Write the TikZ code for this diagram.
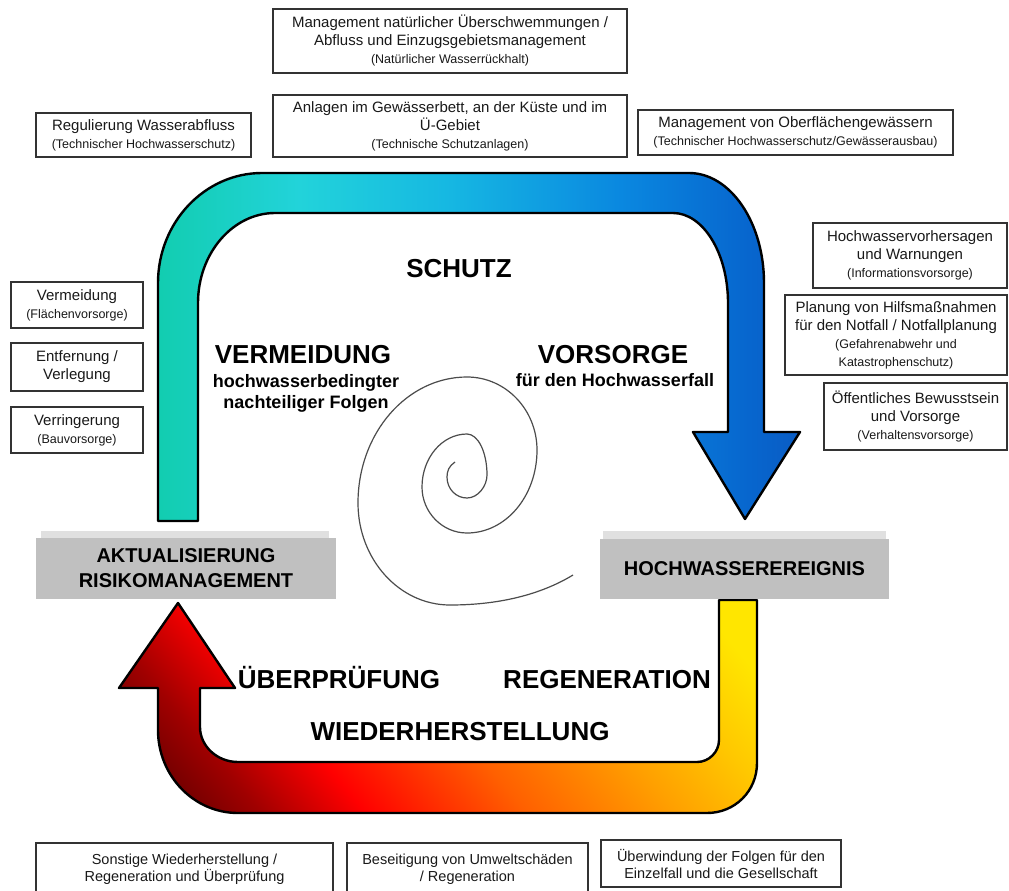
\documentclass[tikz,border=0pt]{standalone}
\usepackage{fontspec}
\setmainfont{Liberation Sans}
\usepackage{tikz}
\usetikzlibrary{positioning}

\definecolor{graubox}{HTML}{C0C0C0}
\definecolor{graustreif}{HTML}{E0E0E0}
\definecolor{tuerkis}{HTML}{12CDB0}
\definecolor{cyanhell}{HTML}{22D3DA}
\definecolor{blaumitte}{HTML}{16B8E2}
\definecolor{blauzwei}{HTML}{0A88E0}
\definecolor{blaudrei}{HTML}{0766CE}
\definecolor{blauvier}{HTML}{0A5CC4}
\definecolor{dunkelrot}{HTML}{700000}
\definecolor{rotmittel}{HTML}{A00000}
\definecolor{rothell}{HTML}{FF0000}
\definecolor{orangerot}{HTML}{FF6000}
\definecolor{orangegelb}{HTML}{FFA000}
\definecolor{gelbmittel}{HTML}{FFC800}
\definecolor{gelbhell}{HTML}{FFE600}

% Pfad-Schattierungen: sichtbarer Bereich 25bp..75bp
\pgfdeclarehorizontalshading{schutzfarbe}{100bp}{color(0bp)=(tuerkis); color(25bp)=(tuerkis); color(36bp)=(cyanhell); color(47.5bp)=(blaumitte); color(61bp)=(blauzwei); color(71bp)=(blaudrei); color(75bp)=(blauvier); color(100bp)=(blauvier)}
\pgfdeclarehorizontalshading{regenfarbe}{100bp}{color(0bp)=(dunkelrot); color(21bp)=(dunkelrot); color(27bp)=(rotmittel); color(36bp)=(rothell); color(50bp)=(orangerot); color(63bp)=(orangegelb); color(72bp)=(gelbmittel); color(80bp)=(gelbhell); color(100bp)=(gelbhell)}

\newcommand{\klein}[1]{{\fontsize{12.5}{14}\selectfont #1}}

\begin{document}
\begin{tikzpicture}[x=1pt, y=-1pt,
        kasten/.style={draw=black!80, line width=1.1pt, fill=white, align=center,
            text=black!90, inner sep=1pt, font=\fontsize{15}{18}\selectfont},
        grau/.style={fill=graubox, align=center, inner sep=0pt,
            font=\fontsize{20}{25}\selectfont\bfseries},
        etikett/.style={anchor=base, font=\fontsize{26}{30}\selectfont\bfseries},
        unter/.style={anchor=base, font=\fontsize{18}{21}\selectfont\bfseries},
        pfeil/.style={draw=black, line width=2.4pt, line join=round},
        spirale/.style={draw=black!70, line width=1.2pt},
    ]
    \useasboundingbox (0,0) rectangle (1009,891);
    \fill[white] (0,0) rectangle (1009,891);

    % Schutz-Pfeil oben
    \draw[pfeil, shading=schutzfarbe]
        (158,521) -- (158,283) .. controls (158,222) and (205,173) .. (262,173)
        -- (689,173) .. controls (730,173) and (764,222) .. (764,283)
        -- (764,432) -- (800,432) -- (745,519) -- (693,432) -- (728,432)
        -- (728,303) .. controls (728,253) and (703,213) .. (673,213)
        -- (275,213) .. controls (233,213) and (198,253) .. (198,303)
        -- (198,521) -- cycle;

    % Regenerations-Pfeil unten
    \draw[pfeil, shading=regenfarbe, shading angle=40]
        (719,600) -- (757,600) -- (757,763) .. controls (757,791) and (735,813) .. (707,813)
        -- (238,813) .. controls (194,813) and (158,776) .. (158,730)
        -- (158,688) -- (119,688) -- (178,603) -- (235,688) -- (200,688)
        -- (200,727) .. controls (200,746) and (217,762) .. (238,762)
        -- (697,762) .. controls (709,762) and (719,752) .. (719,740) -- cycle;

    % Spirale (Viertelboegen)
    \draw[spirale] (455,462) .. controls (449,466) and (447,471) .. (447,477)
        .. controls (447,489) and (456,498) .. (467,498)
        .. controls (478,498) and (487,486) .. (487,475)
        .. controls (487,452) and (478,434) .. (467,434)
        .. controls (442,434) and (422,458) .. (422,487)
        .. controls (422,512) and (442,533) .. (467,533)
        .. controls (506,533) and (537,496) .. (537,450)
        .. controls (537,410) and (506,377) .. (467,377)
        .. controls (407,377) and (358,433) .. (358,503)
        .. controls (358,559) and (399,605) .. (450,605)
        .. controls (505,605) and (545,592) .. (573,575);

    % graue Kaesten
    \fill[graustreif] (41,531) rectangle (329,538);
    \node[grau, minimum width=300pt, minimum height=61pt] (aktualisierung) at (186,568.5)
        {AKTUALISIERUNG\\RISIKOMANAGEMENT};
    \fill[graustreif] (603,531) rectangle (886,539);
    \node[grau, minimum width=289pt, minimum height=60pt] (ereignis) at (744.5,569)
        {HOCHWASSEREREIGNIS};

    % Beschriftungen im Kreislauf
    \node[etikett] (schutz) at (459,277) {SCHUTZ};
    \node[etikett] (vermeid) at (303,363) {VERMEIDUNG};
    \node[unter] (bedingt) at (306,387) {hochwasserbedingter};
    \node[unter] (folgen) at (306,408) {nachteiliger Folgen};
    \node[etikett] (vorsorge) at (613,363) {VORSORGE};
    \node[unter] (fall) at (615,386) {für den Hochwasserfall};
    \node[etikett] (pruefung) at (339,688) {ÜBERPRÜFUNG};
    \node[etikett] (regen) at (607,688) {REGENERATION};
    \node[etikett] (wiederh) at (460,740) {WIEDERHERSTELLUNG};

    % Kaesten oben
    \node[kasten, minimum width=354pt, minimum height=64pt] (natuerlich) at (450,41)
        {Management natürlicher Überschwemmungen /\\Abfluss und Einzugsgebietsmanagement\\\klein{(Natürlicher Wasserrückhalt)}};
    \node[kasten, minimum width=354pt, minimum height=62pt] (anlagen) at (450,126)
        {Anlagen im Gewässerbett, an der Küste und im\\Ü-Gebiet\\\klein{(Technische Schutzanlagen)}};
    \node[kasten, minimum width=215pt, minimum height=44pt] (regulierung) at (143.5,135)
        {Regulierung Wasserabfluss\\\klein{(Technischer Hochwasserschutz)}};
    \node[kasten, minimum width=315pt, minimum height=45pt] (oberflaeche) at (795.5,132.5)
        {Management von Oberflächengewässern\\\klein{(Technischer Hochwasserschutz/Gewässerausbau)}};

    % Kaesten links
    \node[kasten, minimum width=132pt, minimum height=46pt] (vermeidung) at (77,305)
        {Vermeidung\\\klein{(Flächenvorsorge)}};
    \node[kasten, minimum width=132pt, minimum height=48pt] (entfernung) at (77,367)
        {Entfernung /\\Verlegung};
    \node[kasten, minimum width=132pt, minimum height=46pt] (verringerung) at (77,430)
        {Verringerung\\\klein{(Bauvorsorge)}};

    % Kaesten rechts
    \node[kasten, minimum width=194pt, minimum height=65pt] (vorhersage) at (910,255.5)
        {Hochwasservorhersagen\\und Warnungen\\\klein{(Informationsvorsorge)}};
    \node[kasten, minimum width=222pt, minimum height=80pt] (planung) at (896,335)
        {Planung von Hilfsmaßnahmen\\für den Notfall / Notfallplanung\\\klein{(Gefahrenabwehr und}\\\klein{Katastrophenschutz)}};
    \node[kasten, minimum width=183pt, minimum height=67pt] (bewusstsein) at (915.5,416.5)
        {Öffentliches Bewusstsein\\und Vorsorge\\\klein{(Verhaltensvorsorge)}};

    % Kaesten unten
    \node[kasten, minimum width=297pt, minimum height=52pt, font=\fontsize{14.5}{17}\selectfont] (sonstige) at (184.5,869)
        {Sonstige Wiederherstellung /\\Regeneration und Überprüfung};
    \node[kasten, minimum width=241pt, minimum height=52pt, font=\fontsize{14.5}{17}\selectfont] (beseitigung) at (467.5,869)
        {Beseitigung von Umweltschäden\\/ Regeneration};
    \node[kasten, minimum width=240pt, minimum height=47pt, font=\fontsize{14.5}{17}\selectfont] (ueberwindung) at (721,863.5)
        {Überwindung der Folgen für den\\Einzelfall und die Gesellschaft};
\end{tikzpicture}
\end{document}
